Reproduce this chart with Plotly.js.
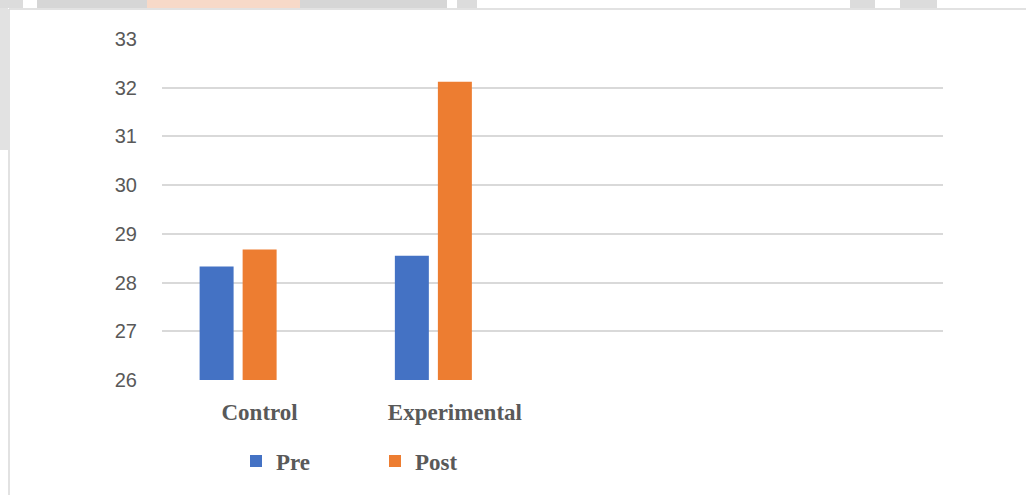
<!DOCTYPE html>
<html>
<head>
<meta charset="utf-8">
<script src="https://cdn.plot.ly/plotly-3.0.1.min.js"></script>
<style>html,body{margin:0;padding:0;background:#fff;}#chart{width:1026px;height:495px;}</style>
</head>
<body>
<div id="chart"></div>
<script>
const categories = ["Control", "Experimental"];
const preValues = [28.33, 28.55];
const postValues = [28.68, 32.12];
const emptySeries = [null, null];
const yTicks = [26, 27, 28, 29, 30, 31, 32, 33];

const textColor = "#595959";
const gridColor = "#d9d9d9";

const traces = [
  {type: "bar", name: "Pre", x: categories, y: preValues, marker: {color: "#4472C4"}},
  {type: "bar", name: "Post", x: categories, y: postValues, marker: {color: "#ED7D31"}},
  {type: "bar", name: "", x: categories, y: emptySeries, showlegend: false, marker: {color: "#A5A5A5"}}
];

const W = 1026, H = 495, L = 162, R = 83, T = 39, B = 115;
const px = v => (v - L) / (W - L - R);
const py = v => (H - B - v) / (H - T - B);

const band = (x0, x1, y0, y1, c) => ({type: "rect", xref: "paper", yref: "paper",
  x0: px(x0), x1: px(x1), y0: py(y0), y1: py(y1), fillcolor: c, line: {width: 0}, layer: "below"});

const layout = {
  width: W, height: H,
  margin: {l: L, r: R, t: T, b: B, pad: 0},
  paper_bgcolor: "#ffffff",
  plot_bgcolor: "#ffffff",
  barmode: "group",
  bargap: 0.339,
  bargroupgap: 0.21,
  showlegend: true,
  xaxis: {
    type: "category",
    categoryorder: "array",
    categoryarray: categories,
    range: [-0.5, 3.5],
    showgrid: false,
    zeroline: false,
    showline: false,
    ticks: "",
    ticklabelstandoff: 16,
    tickfont: {family: "Liberation Serif", size: 23, color: textColor, weight: "bold"},
    fixedrange: true
  },
  yaxis: {
    range: [26, 33],
    tickvals: yTicks,
    ticktext: yTicks.map(String),
    showgrid: true,
    gridcolor: gridColor,
    gridwidth: 2,
    zeroline: false,
    showline: false,
    ticks: "",
    ticklabelstandoff: 24,
    tickfont: {family: "Liberation Sans", size: 20, color: textColor},
    fixedrange: true
  },
  legend: {
    orientation: "h",
    x: px(236), xanchor: "left",
    y: py(461), yanchor: "middle",
    font: {family: "Liberation Serif", size: 23, color: textColor, weight: "bold"},
    entrywidth: 94,
    entrywidthmode: "pixels",
    bgcolor: "rgba(0,0,0,0)"
  },
  shapes: [
    band(0, 23, 0, 8, "#dcdcdc"),
    band(37, 147, 0, 8, "#d6d6d6"),
    band(147, 300, 0, 8, "#f7d9c8"),
    band(300, 447, 0, 8, "#d6d6d6"),
    band(457, 477, 0, 8, "#dcdcdc"),
    band(850, 875, 0, 8, "#dcdcdc"),
    band(900, 937, 0, 8, "#dcdcdc"),
    band(0, 8, 8, 150, "#e2e2e2"),
    {type: "line", xref: "paper", yref: "paper", x0: px(9), x1: px(1026), y0: py(9), y1: py(9), line: {color: gridColor, width: 1.5}},
    {type: "line", xref: "paper", yref: "paper", x0: px(9), x1: px(9), y0: py(9), y1: py(495), line: {color: gridColor, width: 1.5}}
  ]
};

Plotly.newPlot("chart", traces, layout, {staticPlot: true, displayModeBar: false});
</script>
</body>
</html>
